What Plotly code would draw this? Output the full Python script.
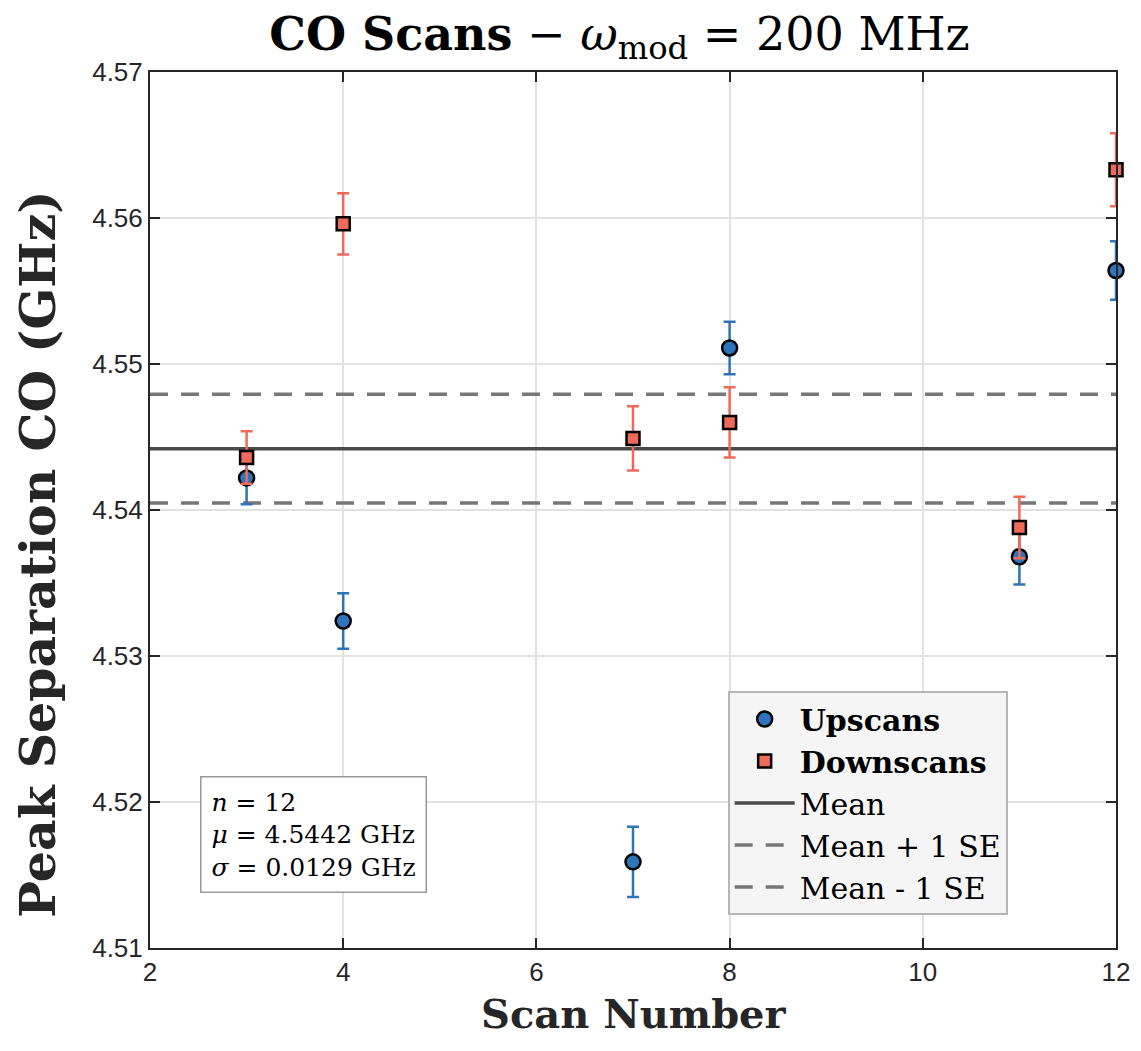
import numpy as np
import plotly.graph_objects as go

# ---- data ----
up_x = [3, 4, 7, 8, 11, 12]
up_y = [4.5422, 4.5324, 4.5159, 4.5511, 4.5368, 4.5564]
up_err = [0.0018, 0.0019, 0.0024, 0.0018, 0.0019, 0.0020]

down_x = [3, 4, 7, 8, 11, 12]
down_y = [4.5436, 4.5596, 4.5449, 4.5460, 4.5388, 4.5633]
down_err = [0.0018, 0.0021, 0.0022, 0.0024, 0.0021, 0.0025]

mean_val = 4.5442
sd_val = 0.0129
n_val = 12
se_val = sd_val / np.sqrt(n_val)

x_range = [2, 12]
y_range = [4.51, 4.57]
x_ticks = [2, 4, 6, 8, 10, 12]
y_ticks = [4.51, 4.52, 4.53, 4.54, 4.55, 4.56, 4.57]

BLUE = "#2f74b9"
RED = "#ee6a5b"
SERIF = "DejaVu Serif, serif"
SANS = "Liberation Sans, Arial, sans-serif"
AX = "#262626"

fig = go.Figure()

fig.add_trace(go.Scatter(
    x=x_range, y=[mean_val, mean_val], mode="lines", legendrank=3,
    line=dict(color="#4a4a4a", width=3.5), name="Mean"))
fig.add_trace(go.Scatter(
    x=x_range, y=[mean_val + se_val] * 2, mode="lines", legendrank=4,
    line=dict(color="#777777", width=3.5, dash="18px,13px"), name="Mean + 1 SE"))
fig.add_trace(go.Scatter(
    x=x_range, y=[mean_val - se_val] * 2, mode="lines", legendrank=5,
    line=dict(color="#777777", width=3.5, dash="18px,13px"), name="Mean - 1 SE"))

fig.add_trace(go.Scatter(
    x=up_x, y=up_y, mode="markers", name="<b>Upscans</b>", legendrank=1, cliponaxis=False,
    marker=dict(symbol="circle", size=15, color=BLUE, line=dict(color="black", width=2.5)),
    error_y=dict(type="data", array=up_err, visible=True, color=BLUE, thickness=2.5, width=6)))
fig.add_trace(go.Scatter(
    x=down_x, y=down_y, mode="markers", name="<b>Downscans</b>", legendrank=2, cliponaxis=False,
    marker=dict(symbol="square", size=13, color=RED, line=dict(color="black", width=2.5)),
    error_y=dict(type="data", array=down_err, visible=True, color=RED, thickness=2.5, width=6)))

axis_common = dict(
    showline=True, linecolor=AX, linewidth=2, mirror="ticks",
    ticks="inside", ticklen=10, tickwidth=2, tickcolor=AX,
    showgrid=True, gridcolor="#e2e2e2", gridwidth=2,
    zeroline=False, tickfont=dict(family=SANS, size=26, color=AX),
)

fig.update_xaxes(range=x_range, tickvals=x_ticks, ticktext=[str(v) for v in x_ticks],
                 **axis_common)
fig.update_yaxes(range=y_range, tickvals=y_ticks, ticktext=[f"{v:.2f}" for v in y_ticks],
                 **axis_common)

fig.update_layout(
    width=1141, height=1051,
    margin=dict(l=150, r=25, t=72, b=103),
    paper_bgcolor="white", plot_bgcolor="white",
    title=dict(text="<b>CO Scans</b> − <i>ω</i><sub>mod</sub> = 200 MHz",
               font=dict(family=SERIF, size=46, color="black"),
               x=0.543, xanchor="center", y=0.968, yanchor="middle"),
    showlegend=True,
    legend=dict(
        x=0.598, y=0.2934, xanchor="left", yanchor="top",
        bgcolor="#f5f5f5", bordercolor="#b5b5b5", borderwidth=2,
        font=dict(family=SERIF, size=30, color="black"),
        traceorder="normal", itemwidth=60, tracegroupgap=0,
    ),
    annotations=[
        dict(
            xref="paper", yref="paper", x=0.052, y=0.0625, xanchor="left", yanchor="bottom",
            text="<i>n</i> = 12<br><i>μ</i> = 4.5442 GHz<br><i>σ</i> = 0.0129 GHz",
            showarrow=False, align="left",
            font=dict(family=SERIF, size=25, color="black"),
            bordercolor="#999999", borderwidth=1.5, borderpad=10, bgcolor="white",
        ),
        dict(
            xref="paper", yref="paper", x=-0.116, y=0.45, xanchor="center", yanchor="middle",
            text="<b>Peak Separation CO (GHz)</b>", textangle=-90, showarrow=False,
            font=dict(family=SERIF, size=49, color=AX),
        ),
        dict(
            xref="paper", yref="paper", x=0.501, y=-0.075, xanchor="center", yanchor="middle",
            text="<b>Scan Number</b>", showarrow=False,
            font=dict(family=SERIF, size=40, color=AX),
        ),
    ],
)

fig.write_html("out.html")
